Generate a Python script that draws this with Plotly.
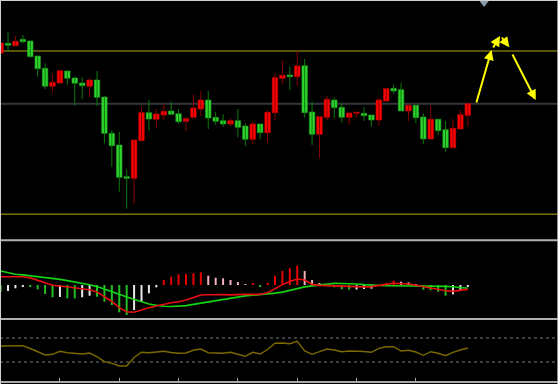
import plotly.graph_objects as go

# ---------------- data ----------------
opens = [207, 216.7, 214.3, 220.7, 219, 204, 191.7, 173.7, 177, 189, 182, 177, 173.7, 180, 163, 126.7,
         115, 83.3, 81.7, 119.3, 147.3, 140.7, 145, 149, 146.3, 138.7, 142.7, 151, 160, 142.7, 139.3, 136,
         139.3, 134, 120.7, 136, 127.3, 147.3, 181.7, 185, 183.3, 194.3, 148, 125.7, 142.7, 160, 152.7, 142.7,
         146.7, 146.7, 145, 140, 159, 171.7, 170.3, 149, 154.7, 143, 121, 140.7, 130.3, 112.3, 131, 144.7]
highs = [218, 228.3, 224, 225, 219.5, 204, 196.7, 185.7, 190, 189, 183.3, 182.7, 181.3, 189, 164, 130,
         128, 90.7, 120, 153.3, 160, 151, 156.7, 158.3, 151, 143.3, 165.3, 168.7, 168.7, 148, 146, 142,
         151, 136.7, 138.3, 136, 150, 186.7, 199.3, 193.3, 209.3, 201, 158.3, 143.3, 164, 162.7, 156.7, 147,
         148.3, 152.7, 145, 162.3, 171.3, 175.7, 177.3, 156, 154.7, 146.7, 154.7, 140.7, 139, 141, 150, 156.3]
lows = [206, 208.3, 214.3, 216.7, 202.5, 183.3, 171, 167.7, 177, 175.3, 154.3, 160.7, 162.7, 154, 116.7, 93.3,
        68.3, 51.3, 55.7, 119.3, 129.3, 132.3, 140, 145, 136, 129, 142.7, 144, 131, 135, 133.3, 134,
        122.7, 114, 115.7, 120.7, 117.3, 140, 175.7, 170, 174, 142.3, 115, 101.7, 140, 142.3, 137.7, 135,
        142.3, 139, 133.3, 134, 159, 166, 149, 139, 136.7, 116, 121, 125, 108.3, 112.3, 131, 133.3]
closes = [217, 214.7, 218.7, 218.3, 203.3, 191.3, 173.7, 177.7, 189.3, 181.7, 176.7, 174.3, 180, 162.7, 126.7, 114.3,
          82.7, 81.7, 120, 147.3, 141, 146, 148.7, 145.7, 138.3, 141.3, 152, 160, 142, 138.7, 136, 139.3,
          132.7, 120.7, 136, 127.3, 147.7, 182.3, 184.7, 183.3, 194, 147.3, 125.7, 143.3, 160.7, 152.3, 142.7, 147,
          147.7, 144.3, 140, 160, 171.3, 169, 149, 154.7, 142.3, 121, 140.7, 129.3, 112.3, 131.7, 145.3, 156.3]

dif = [8.3, 8.3, 8.3, 8.3, 7.1, 4.7, 2.0, -0.3, -1.0, -1.8, -3.0, -4.1, -4.7, -6.9, -11.3, -16.5,
       -22.7, -26.7, -27.2, -24.6, -22.7, -21.0, -19.0, -17.7, -16.7, -15.0, -12.4, -10.0, -9.7, -9.3, -9.6, -9.9,
       -9.4, -9.4, -9.4, -9.4, -7.7, -3.3, 0.4, 3.4, 6.0, 5.0, 0.6, -0.4, -0.7, -1.0, -1.3, -1.6,
       -1.8, -1.9, -1.6, -0.7, 0.2, 1.7, 1.3, 1.0, -0.3, -1.7, -3.1, -4.5, -5.7, -6.4, -5.2, -4.1]
dea = [14.0, 12.4, 10.8, 10.1, 9.3, 8.6, 7.8, 6.9, 5.6, 4.4, 3.1, 1.9, 0.2, -1.6, -3.9, -6.6,
       -9.2, -11.9, -14.5, -16.8, -19.0, -20.2, -21.3, -21.5, -21.2, -20.6, -19.4, -18.2, -16.7, -15.2, -14.1, -13.1,
       -12.0, -10.9, -10.3, -9.7, -9.1, -8.1, -7.1, -5.4, -3.5, -1.9, -0.9, 0.1, 0.9, 1.6, 1.5, 1.4,
       1.0, 0.4, -0.1, -0.4, -0.7, -0.7, -0.7, -0.7, -0.7, -0.8, -0.9, -1.1, -1.4, -1.8, -2.6, -3.3]
macd_hist = [-7, -6, -3.3, -1.3, -2, -4.3, -9, -12.3, -12, -13.3, -13.5, -12.3, -10.7, -11.7, -16.7, -20,
             -27.3, -30, -25, -16.7, -8.3, -2.3, 5, 8.3, 10.7, 11, 11.7, 12.7, 9.3, 7.3, 6.7, 5,
             3, 1, 1.2, -1.3, 2.3, 9.3, 14, 16.7, 19.3, 14, 5, 1.7, 0.5, -2.3, -4.3, -4.7,
             -4.5, -4, -3.7, -1, 2.3, 4.3, 3.3, 2.7, 0.5, -4.7, -5, -6.7, -10.7, -9.3, -5.7, -2]
osc = [60, 60, 60.5, 60.75, 53.75, 45, 37.5, 39.25, 46.75, 43.25, 40.75, 40, 42.5, 33.25, 20.75, 16.75,
       10, 10, 31.25, 44.25, 43.25, 45, 46.75, 43.75, 41.75, 42.5, 49.25, 52.5, 43.25, 42.5, 41.75, 44.25,
       40, 34.25, 44.25, 40, 51.25, 66.75, 67.5, 65.75, 71.75, 47.5, 39.25, 46.25, 52.5, 50, 45.75, 47.5,
       47.5, 46.25, 44.25, 54.25, 58.25, 58.25, 47.5, 49.25, 45, 36.75, 45.75, 41.75, 35.75, 44.25, 50, 55]
osc_levels = [80, 20]

olive_levels = [209.0, 45.7]
grey_levels = [156.3]

# forecast path drawn as arrows: (candle index, price)
forecast_tails = [(64.1, 156.0), (66.3, 211.0), (67.44, 224.0), (68.92, 207.0)]
forecast_heads = [(66.2, 210.0), (67.34, 224.0), (68.6, 212.7), (72.16, 160.0)]
marker_pos = (65.2, 257.5)

tick_every = 8

# ---------------- figure ----------------
n = len(closes)
xs = list(range(n))
up = [c >= o for o, c in zip(opens, closes)]

fig = go.Figure()

# wicks
for is_up, col in [(True, "#8a0000"), (False, "#0c7a0c")]:
    wx, wy = [], []
    for i in xs:
        if up[i] == is_up:
            wx += [i, i, None]
            wy += [lows[i], highs[i], None]
    fig.add_trace(go.Scatter(x=wx, y=wy, mode="lines", line=dict(color=col, width=1),
                             hoverinfo="skip", showlegend=False, xaxis="x", yaxis="y"))

# bodies
base = [min(o, c) for o, c in zip(opens, closes)]
height = [max(abs(c - o), 1.0) for o, c in zip(opens, closes)]
fig.add_trace(go.Bar(x=xs, y=height, base=base, width=0.74,
                     marker=dict(color=["#ff0000" if u else "#2fd52f" for u in up],
                                 line=dict(color=["#d00000" if u else "#1c9e1c" for u in up], width=0.6)),
                     showlegend=False, xaxis="x", yaxis="y"))

# top marker
fig.add_trace(go.Scatter(x=[marker_pos[0]], y=[marker_pos[1]], mode="markers",
                         marker=dict(symbol="triangle-down", size=9, color="#8a9aaa"),
                         cliponaxis=False, showlegend=False, xaxis="x", yaxis="y"))

# MACD histogram
hist_cols = []
for i, v in enumerate(macd_hist):
    prev = macd_hist[i - 1] if i > 0 else v
    if v >= 0:
        hist_cols.append("#e80000" if v >= prev else "#f4b0bc")
    else:
        hist_cols.append("#22c022" if v <= prev else "#e8e8e8")
fig.add_trace(go.Bar(x=xs, y=macd_hist, width=0.27, marker=dict(color=hist_cols, line=dict(width=0)),
                     showlegend=False, xaxis="x", yaxis="y2"))
fig.add_trace(go.Scatter(x=xs, y=dea, mode="lines", line=dict(color="#14d214", width=1.6),
                         showlegend=False, xaxis="x", yaxis="y2"))
fig.add_trace(go.Scatter(x=xs, y=dif, mode="lines", line=dict(color="#e81010", width=1.6),
                         showlegend=False, xaxis="x", yaxis="y2"))

# oscillator
fig.add_trace(go.Scatter(x=xs, y=osc, mode="lines", line=dict(color="#7a6800", width=1.4),
                         showlegend=False, xaxis="x", yaxis="y3"))

shapes = []
for lv in olive_levels:
    shapes.append(dict(type="line", xref="paper", yref="y", x0=0, x1=1, y0=lv, y1=lv,
                       line=dict(color="#7a7010", width=1.6), layer="below"))
for lv in grey_levels:
    shapes.append(dict(type="line", xref="paper", yref="y", x0=0, x1=1, y0=lv, y1=lv,
                       line=dict(color="#33373c", width=2), layer="below"))
for lv in osc_levels:
    shapes.append(dict(type="line", xref="paper", yref="y3", x0=0, x1=1, y0=lv, y1=lv,
                       line=dict(color="#7a7a7a", width=1, dash="dot"), layer="below"))
# panel separators
for py in [240.3, 319.0]:
    yy = 1 - py / 384
    shapes.append(dict(type="line", xref="paper", yref="paper", x0=0, x1=1, y0=yy, y1=yy,
                       line=dict(color="#b0b0b0", width=2)))
# frame
shapes.append(dict(type="line", xref="paper", yref="paper", x0=0, x1=1, y0=1, y1=1,
                   line=dict(color="#cfcfcf", width=2)))
shapes.append(dict(type="line", xref="paper", yref="paper", x0=0, x1=0, y0=0, y1=1,
                   line=dict(color="#cfcfcf", width=2)))
shapes.append(dict(type="line", xref="paper", yref="paper", x0=1, x1=1, y0=0, y1=1,
                   line=dict(color="#bcbcbc", width=1.5)))

annotations = []
for (tx, ty), (hx, hy) in zip(forecast_tails, forecast_heads):
    annotations.append(dict(x=hx, y=hy, ax=tx, ay=ty, xref="x", yref="y", axref="x", ayref="y",
                            text="", showarrow=True, arrowhead=2, arrowsize=1.0, arrowwidth=2,
                            arrowcolor="#ffff00", standoff=0, startstandoff=0))

px = 7.416
x0 = -0.6 / px
fig.update_layout(
    width=558, height=384, margin=dict(l=0, r=0, t=0, b=0),
    paper_bgcolor="#000000", plot_bgcolor="#000000",
    barmode="overlay", showlegend=False, hovermode=False,
    shapes=shapes, annotations=annotations,
    xaxis=dict(range=[x0, x0 + 558 / px], domain=[0, 1], anchor="y3",
               showgrid=False, zeroline=False, showline=True, linecolor="#a8a8a8", linewidth=2,
               ticks="inside", ticklen=3, tickwidth=1, tickcolor="#a8a8a8",
               tickvals=list(range(tick_every, n, tick_every)), showticklabels=False),
    yaxis=dict(domain=[1 - 239 / 384, 1], range=[21, 260], visible=False),
    yaxis2=dict(domain=[1 - 318 / 384, 1 - 241 / 384], range=[-33, 44], visible=False),
    yaxis3=dict(domain=[1 - 381 / 384, 1 - 320 / 384], range=[-27.5, 125], visible=False),
)

fig.write_html("out.html", config={"displayModeBar": False},
               post_script="document.body.style.margin='0';document.body.style.background='#000';")
